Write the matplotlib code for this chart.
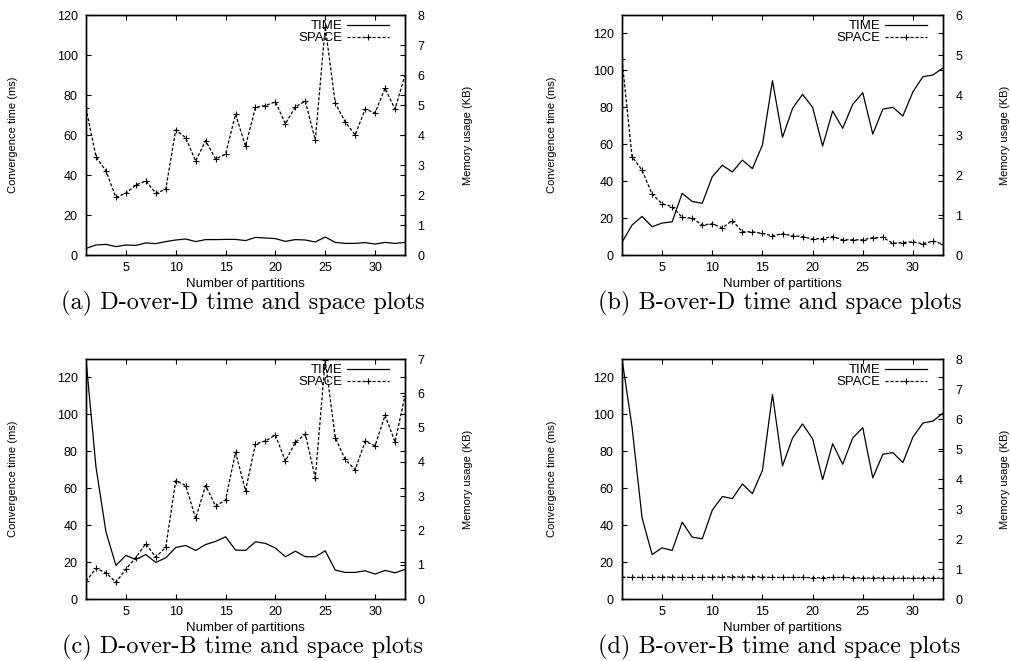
import matplotlib
matplotlib.use("Agg")
import matplotlib.pyplot as plt

plt.rcParams['font.family'] = ['Liberation Sans', 'DejaVu Sans']
plt.rcParams['font.size'] = 9
plt.rcParams['axes.linewidth'] = 1.0

partitions = list(range(1, 34))

# (a) D-over-D
time_a = [3.3, 5.0, 5.3, 4.2, 5.0, 4.8, 6.0, 5.7, 6.7, 7.5, 8.0, 6.7, 7.7, 7.7, 7.8,
          7.8, 7.2, 8.8, 8.5, 8.2, 6.8, 7.7, 7.5, 6.5, 9.0, 6.3, 5.8, 5.8, 6.2, 5.5,
          6.3, 5.8, 6.3]
space_a = [4.89, 3.28, 2.80, 1.92, 2.06, 2.33, 2.47, 2.06, 2.19, 4.17, 3.91, 3.13,
           3.81, 3.20, 3.36, 4.69, 3.63, 4.92, 4.98, 5.11, 4.37, 4.94, 5.13, 3.83,
           7.61, 5.06, 4.44, 4.00, 4.86, 4.74, 5.56, 4.86, 6.00]

# (b) B-over-D
time_b = [6.9, 16.2, 20.9, 15.3, 17.3, 18.0, 33.4, 29.0, 28.0, 42.4, 48.6, 45.0,
          51.4, 46.8, 59.6, 94.4, 63.7, 79.4, 87.0, 80.0, 59.0, 78.0, 68.6, 81.6,
          87.9, 65.5, 79.0, 80.0, 75.3, 88.4, 96.6, 97.5, 101.4]
space_b = [4.89, 2.46, 2.12, 1.52, 1.28, 1.21, 0.94, 0.92, 0.75, 0.78, 0.68, 0.86,
           0.58, 0.58, 0.54, 0.48, 0.53, 0.48, 0.46, 0.40, 0.41, 0.46, 0.38, 0.38,
           0.38, 0.43, 0.44, 0.29, 0.31, 0.33, 0.28, 0.35, 0.27]

# (c) D-over-B
time_c = [129.7, 71.5, 36.4, 18.2, 23.6, 21.4, 24.1, 19.8, 22.3, 27.9, 29.0, 26.3,
          29.5, 31.2, 33.7, 26.5, 26.3, 31.0, 30.1, 27.6, 22.9, 25.9, 22.9, 22.9,
          26.1, 15.7, 14.4, 14.4, 15.3, 13.5, 15.5, 14.2, 16.0]
space_c = [0.52, 0.89, 0.77, 0.49, 0.87, 1.21, 1.61, 1.22, 1.51, 3.45, 3.31, 2.35,
           3.31, 2.71, 2.89, 4.28, 3.16, 4.52, 4.61, 4.78, 4.02, 4.57, 4.81, 3.53,
           6.97, 4.71, 4.07, 3.77, 4.60, 4.47, 5.36, 4.58, 5.93]

# (d) B-over-B
time_d = [130.0, 93.2, 44.0, 24.1, 27.7, 26.3, 41.6, 33.5, 32.6, 48.1, 55.5, 54.4,
          62.3, 57.1, 69.7, 110.8, 72.1, 87.2, 94.8, 86.8, 64.7, 84.1, 73.0, 87.2,
          92.8, 65.6, 78.4, 79.3, 73.9, 87.7, 95.3, 96.4, 100.7]
space_d = [0.73, 0.72, 0.72, 0.72, 0.73, 0.73, 0.72, 0.72, 0.72, 0.73, 0.73, 0.74,
           0.73, 0.74, 0.73, 0.72, 0.72, 0.72, 0.72, 0.71, 0.71, 0.72, 0.72, 0.71,
           0.70, 0.70, 0.70, 0.69, 0.70, 0.69, 0.70, 0.70, 0.69]

captions = ["(a) D-over-D time and space plots", "(b) B-over-D time and space plots",
            "(c) D-over-B time and space plots", "(d) B-over-B time and space plots"]
time_series = [time_a, time_b, time_c, time_d]
space_series = [space_a, space_b, space_c, space_d]
left_max = [120, 130, 130, 130]
right_max = [8, 6, 7, 8]
x_ticks = [5, 10, 15, 20, 25, 30]
left_ticks = [0, 20, 40, 60, 80, 100, 120]

W, H = 1012, 661
fig = plt.figure(figsize=(W / 100, H / 100), dpi=100)

# pixel boxes: left, right, top, bottom ; label x positions; caption y
boxes = [(86, 405, 15, 255), (622, 943, 15, 255), (86, 405, 359, 599), (622, 943, 359, 599)]
ylab_left_px = [13, 552, 13, 552]
ylab_right_px = [468, 1005, 468, 1005]
caption_y_px = [303, 303, 647, 647]

for i in range(4):
    l, r, t, b = boxes[i]
    ax = fig.add_axes([l / W, (H - b) / H, (r - l) / W, (b - t) / H])
    ax2 = ax.twinx()
    lt, = ax.plot(partitions, time_series[i], color='black', lw=0.9, label='TIME')
    ls, = ax2.plot(partitions, space_series[i], color='black', lw=0.9,
                   linestyle=(0, (2.5, 1.5)), marker='+', ms=4.5, mew=0.8,
                   label='SPACE')
    ax.set_xlim(1, 33)
    ax.set_ylim(0, left_max[i])
    ax2.set_ylim(0, right_max[i])
    ax.set_xticks(x_ticks)
    ax.set_yticks(left_ticks)
    ax2.set_yticks(list(range(0, right_max[i] + 1)))
    ax.tick_params(direction='in', length=3.5, width=0.8, top=True, right=True,
                   labelright=False, labelsize=9)
    ax.tick_params(axis='x', pad=5)
    ax.tick_params(axis='y', pad=6)
    ax2.tick_params(direction='in', length=3.5, width=0.8, labelsize=9, pad=9)
    ax.set_xlabel('Number of partitions', labelpad=3, fontsize=9.5)
    ax.set_ylabel('Convergence time (ms)', va='center', fontsize=8)
    ax.yaxis.set_label_coords((ylab_left_px[i] - l) / (r - l), 0.5)
    ax2.set_ylabel('Memory usage (KB)', va='center', rotation=90, fontsize=8)
    ax2.yaxis.set_label_coords((ylab_right_px[i] - l) / (r - l), 0.5)
    ax2.legend(handles=[lt, ls], loc='upper right', frameon=False, markerfirst=False,
               numpoints=1, handlelength=3.2, handletextpad=0.3, labelspacing=0.0,
               borderaxespad=0, borderpad=0, fontsize=9.5,
               bbox_to_anchor=(1 - 16 / (r - l), 1 - 5 / (b - t)))
    fig.text(((l + r) / 2 - 3) / W, 1 - caption_y_px[i] / H, captions[i],
             ha='center', va='center', fontsize=17.5, family='cmr10')

fig.savefig('out.png', dpi=100)
